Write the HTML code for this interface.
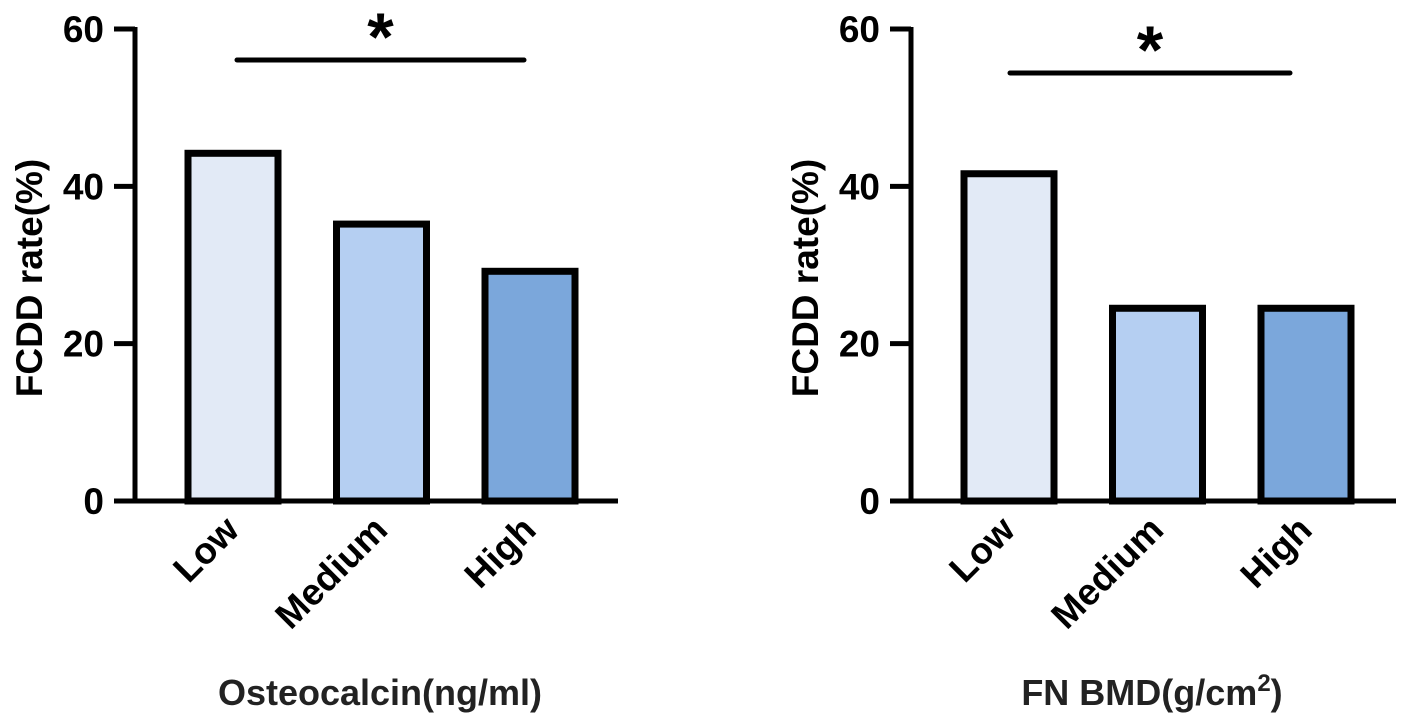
<!DOCTYPE html>
<html><head><meta charset="utf-8"><style>
html,body{margin:0;padding:0;background:#fff;}
svg{display:block;font-family:"Liberation Sans",Arial,sans-serif;font-weight:bold;}
</style></head><body>
<svg id="chart" width="1417" height="716" viewBox="0 0 1417 716"></svg>
<script>
const categories = ["Low", "Medium", "High"];
const osteocalcinValues = [44.2, 35.2, 29.2];
const bmdValues = [41.6, 24.5, 24.5];
const yTicks = [0, 20, 40, 60];
const barColors = ["#e2eaf6", "#b5cff2", "#7ba7db"];

const NS = "http://www.w3.org/2000/svg";
const svg = document.getElementById("chart");
function mk(tag, attrs, parent) {
  const e = document.createElementNS(NS, tag);
  for (const k in attrs) e.setAttribute(k, attrs[k]);
  (parent || svg).appendChild(e);
  return e;
}

function drawPanel(cfg) {
  const g = mk("g", {});
  
  
  const y0 = 501, yTop = 29, yMax = 60;
  const y = v => y0 - (v / yMax) * (y0 - yTop);
  const ax = cfg.axisX;
  const barW = 90;
  const xc = i => ax + 98 + 148.5 * i;

  cfg.values.forEach((v, i) => {
    const r = mk("rect", {x: xc(i) - barW / 2, y: y(v), width: barW, height: y0 - y(v),
      fill: barColors[i], stroke: "#000", "stroke-width": 7}, g);
    
    
  });

  const yAxis = mk("line", {x1: ax, y1: yTop - 2, x2: ax, y2: y0 + 2.5, stroke: "#000", "stroke-width": 5}, g);
  
  
  const xAxis = mk("line", {x1: ax - 2.5, y1: y0, x2: cfg.axisEnd, y2: y0, stroke: "#000", "stroke-width": 5}, g);
  
  

  yTicks.forEach(t => {
    const tk = mk("line", {x1: ax - 21, y1: y(t), x2: ax, y2: y(t), stroke: "#000", "stroke-width": 5}, g);
    
    
    const lb = mk("text", {x: ax - 31, y: y(t) + 13, "text-anchor": "end", "font-size": 37}, g);
    lb.textContent = t;
    
    
  });

  categories.forEach((c, i) => {
    const tx = xc(i) + 8, ty = 532;
    const lb = mk("text", {x: tx, y: ty, "text-anchor": "end", "font-size": 37,
      transform: `rotate(-45 ${tx} ${ty})`}, g);
    lb.textContent = c;
    
    
  });

  const tx0 = ax - 93;
  const yt = mk("text", {x: tx0, y: 278, "text-anchor": "middle", "font-size": 37,
    transform: `rotate(-90 ${tx0} 278)`}, g);
  yt.textContent = "FCDD rate(%)";
  
  

  const xt = mk("text", {x: cfg.xTitleX, y: 705, "text-anchor": "middle", "font-size": 36, fill: "#222"}, g);
  
  
  if (cfg.sup) {
    xt.appendChild(document.createTextNode(cfg.xTitle));
    const s = mk("tspan", {"font-size": 24, dy: -14}, xt);
    s.textContent = cfg.sup;
    const s2 = mk("tspan", {dy: 14}, xt);
    s2.textContent = ")";
  } else {
    xt.textContent = cfg.xTitle;
  }

  const sl = mk("line", {x1: cfg.sig[0], y1: cfg.sig[2], x2: cfg.sig[1], y2: cfg.sig[2],
    stroke: "#000", "stroke-width": 5, "stroke-linecap": "round"}, g);
  
  
  const st = mk("text", {x: (cfg.sig[0] + cfg.sig[1]) / 2, y: cfg.sig[2], "text-anchor": "middle", "font-size": 68}, g);
  st.textContent = "*";
  
  
}

drawPanel({name: "osteocalcin-chart", values: osteocalcinValues, axisX: 135, axisEnd: 618,
  xTitle: "Osteocalcin(ng/ml)", xTitleX: 380, sig: [237, 524, 60]});
drawPanel({name: "fn-bmd-chart", values: bmdValues, axisX: 911, axisEnd: 1396,
  xTitle: "FN BMD(g/cm", sup: "2", xTitleX: 1152, sig: [1010, 1290, 73]});
</script>
</body></html>
